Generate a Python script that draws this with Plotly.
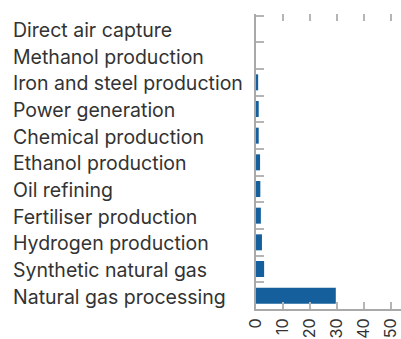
import plotly.graph_objects as go

# Sectors, listed top to bottom
categories = [
    "Direct air capture",
    "Methanol production",
    "Iron and steel production",
    "Power generation",
    "Chemical production",
    "Ethanol production",
    "Oil refining",
    "Fertiliser production",
    "Hydrogen production",
    "Synthetic natural gas",
    "Natural gas processing",
]
values = [0, 0, 0.8, 1.0, 1.0, 1.5, 1.6, 1.8, 2.2, 3.0, 29.5]
x_ticks = [0, 10, 20, 30, 40, 50]
x_max = 53.6

W, H = 401, 339
ML, MR, MT, MB = 256, 0, 14, 30
LABEL_LEFT = 11  # px from the left edge of the page

BAR = "#155f9c"
TEXT = "#333333"
AXIS = "#a9a9a9"
TICK = "#b5b5b5"
FONT = "Inter"

fig = go.Figure(
    go.Bar(
        x=values,
        y=categories,
        orientation="h",
        marker=dict(color=BAR, line=dict(width=0)),
        width=0.6,
        hoverinfo="x+y",
    )
)

# Empty trace so the top tick axis gets drawn
fig.add_trace(go.Scatter(x=[None], y=[None], xaxis="x2", yaxis="y",
                         mode="markers", showlegend=False, hoverinfo="skip"))

plot_w = W - ML - MR
label_x = (LABEL_LEFT - ML) / plot_w

# Left-aligned category labels
for cat in categories:
    fig.add_annotation(
        x=label_x, xref="paper", xanchor="left",
        y=cat, yref="y", yanchor="middle", yshift=-1,
        text=cat, showarrow=False,
        font=dict(family=FONT, size=19.5, color=TEXT),
    )

fig.update_layout(
    width=W, height=H,
    margin=dict(l=ML, r=MR, t=MT, b=MB, pad=0, autoexpand=False),
    paper_bgcolor="white", plot_bgcolor="white",
    showlegend=False,
    xaxis=dict(
        range=[0, x_max],
        tickvals=x_ticks,
        ticktext=[str(v) for v in x_ticks],
        tickangle=-90,
        ticks="inside", ticklen=7, tickwidth=1.5, tickcolor=TICK,
        showline=True, linecolor=AXIS, linewidth=2,
        showgrid=False, zeroline=False,
        tickfont=dict(family=FONT, size=16, color=TEXT),
        ticklabelstandoff=1,
        ticklabeloverflow="allow",
        automargin=False,
    ),
    xaxis2=dict(
        overlaying="x", side="top", anchor="y",
        range=[0, x_max],
        tickvals=x_ticks[1:],
        ticks="inside", ticklen=7, tickwidth=1.5, tickcolor=TICK,
        showticklabels=False, showline=False, showgrid=False, zeroline=False,
        automargin=False,
    ),
    yaxis=dict(
        categoryorder="array", categoryarray=categories,
        autorange="reversed",
        tickson="boundaries",
        ticks="inside", ticklen=8, tickwidth=2, tickcolor=TICK,
        showticklabels=False,
        showline=True, linecolor=AXIS, linewidth=2,
        showgrid=False, zeroline=False,
        automargin=False,
    ),
)

fig.write_html("out.html")
